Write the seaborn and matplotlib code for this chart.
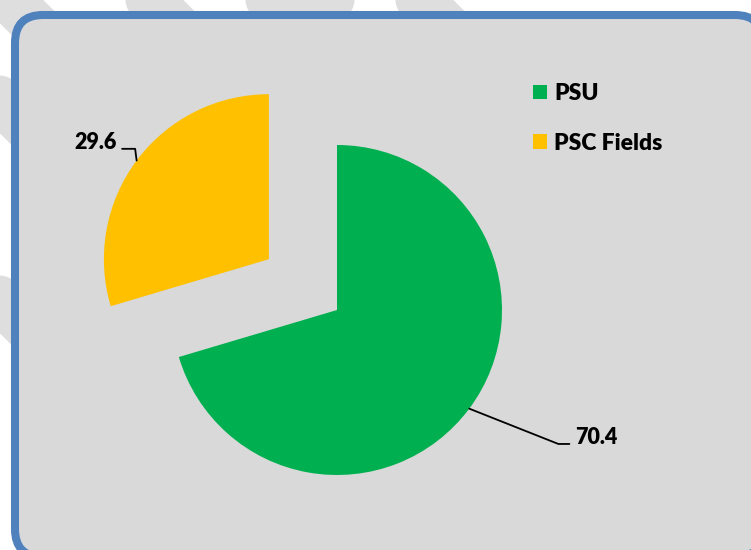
import numpy as np
import matplotlib
matplotlib.use('Agg')
import matplotlib.pyplot as plt
import seaborn as sns
from matplotlib.patches import FancyBboxPatch
from matplotlib.transforms import IdentityTransform

# Datos
labels = ['PSU', 'PSC Fields']
values = [70.4, 29.6]
colors = ['#00B050', '#FFC000']
explode = [0, 0.515]

sns.set_style('white')
plt.rcParams['font.family'] = ['Lato', 'DejaVu Sans']
plt.rcParams['text.color'] = 'black'

W, H = 751, 550
fig = plt.figure(figsize=(W / 100, H / 100), dpi=100)
fig.patch.set_facecolor('white')

# franjas de la marca de agua (en pixeles, y desde arriba)
stripes = [((-20, -30), (40, 30)), ((110, -40), (200, 50)), ((230, -40), (310, 40)),
           ((370, -40), (280, 50)), ((380, -40), (480, 60)), ((-40, 60), (60, 160)),
           ((-40, 260), (40, 340))]
for (x0, y0), (x1, y1) in stripes:
    fig.add_artist(plt.Line2D([x0, x1], [H - y0, H - y1], lw=34, color='#DEDEDE',
                              solid_capstyle='round', transform=IdentityTransform(), zorder=-3))

# caja redondeada
box = FancyBboxPatch((15, H - 557), 748, 542, boxstyle='round,pad=0,rounding_size=28',
                     facecolor='#D9D9D9', edgecolor='#4F81BD', linewidth=5.8,
                     transform=IdentityTransform(), zorder=-1)
fig.add_artist(box)

ax = fig.add_axes([0, 0, 1, 1])
ax.set_facecolor('none')
wedges, _ = ax.pie(values, colors=colors, explode=explode, startangle=90,
                   counterclock=False, radius=1,
                   wedgeprops=dict(linewidth=0))

# limites: centro del pastel en (337, 310) px, radio 165 px
r_px = 165
cx, cy = 337, 310
ax.set_xlim(-cx / r_px, (W - cx) / r_px)
ax.set_ylim(-(H - cy) / r_px, cy / r_px)
ax.set_aspect('equal')
ax.axis('off')

# etiquetas con lineas guia
for w, v in zip(wedges, values):
    mid = np.deg2rad((w.theta1 + w.theta2) / 2)
    c = w.center
    px, py = c[0] + np.cos(mid), c[1] + np.sin(mid)
    if np.cos(mid) > 0:
        kx, ky = px + 0.54, py - 0.214
        ex = kx + 0.067
        ax.plot([px, kx, ex], [py, ky, ky], color='black', lw=1.3)
        ax.text(ex + 0.036, ky + 0.042, f'{v:.1f}', ha='left', va='center',
                fontsize=15.5, fontweight='heavy', color='black')
    else:
        kx, ky = px - 0.009, py + 0.071
        ex = kx - 0.079
        ax.plot([px, kx, ex], [py, ky, ky], color='black', lw=1.3)
        ax.text(ex - 0.03, ky + 0.036, f'{v:.1f}', ha='right', va='center',
                fontsize=15.5, fontweight='heavy', color='black')

leg = ax.legend(wedges, labels, loc='upper left', bbox_to_anchor=(533 / W, 1 - 83 / H),
                bbox_transform=fig.transFigure, frameon=False, fontsize=16.5,
                handlelength=0.62, handleheight=0.62, handletextpad=0.3,
                labelspacing=1.25, borderpad=0, borderaxespad=0)
for t in leg.get_texts():
    t.set_fontweight('heavy')
    t.set_color('black')

plt.savefig('out.png', dpi=100)
